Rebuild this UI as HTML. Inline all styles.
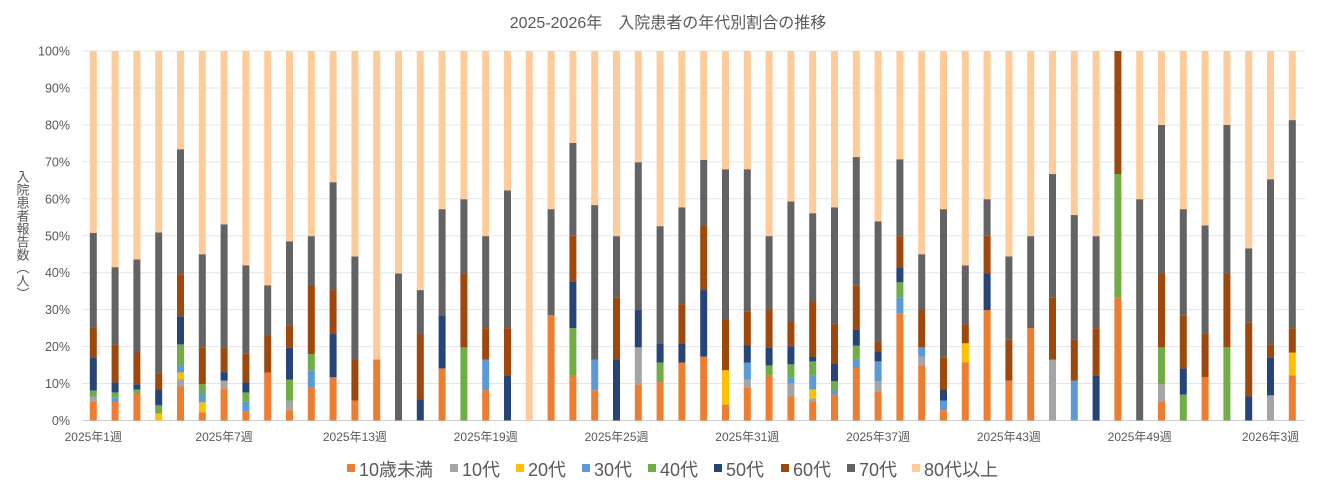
<!DOCTYPE html>
<html><head><meta charset="utf-8"><style>
html,body{margin:0;padding:0;background:#fff;}
svg text{font-family:"Liberation Sans","Noto Sans CJK JP",sans-serif;}
</style></head><body>
<svg id="c" width="1336" height="489" xmlns="http://www.w3.org/2000/svg">
<rect width="1336" height="489" fill="#fff"/>
<text x="668" y="28" text-anchor="middle" font-size="16" fill="#595959">2025-2026年　入院患者の年代別割合の推移</text>
<text x="22" y="235" font-size="13" fill="#595959" style="writing-mode:vertical-rl" text-anchor="middle">入院患者報告数（人）</text>
<g id="g"></g>
</svg>
<script>
var C=["#ED7D31","#A5A5A5","#FFC000","#5B9BD5","#70AD47","#264478","#9E480E","#636363","#FFCC99"];
var O=0,G=1,Y=2,B=3,N=4,V=5,R=6,D=7;
var data=[
[[O,5],[G,6.5],[N,8.1],[V,16.9],[R,25.2],[D,50.8]],
[[O,5],[B,6.3],[N,7.6],[V,10.3],[R,20.6],[D,41.5]],
[[O,7.3],[N,8.4],[V,9.8],[R,18.4],[D,43.6]],
[[Y,1.9],[N,4.1],[V,8.4],[R,12.6],[D,50.9]],
[[O,9.2],[G,11.1],[Y,13],[B,14.9],[N,20.6],[V,28.2],[R,39.6],[D,73.4]],
[[O,2.2],[Y,4.9],[B,7.3],[N,9.8],[R,19.8],[D,45]],
[[O,8.7],[G,10.8],[V,13.1],[R,19.8],[D,53.1]],
[[O,2.4],[B,5.1],[N,7.6],[V,10.3],[R,18.2],[D,42]],
[[O,13],[R,23],[D,36.6]],
[[O,2.8],[G,5.4],[N,11.1],[V,19.8],[R,25.6],[D,48.5]],
[[O,8.9],[B,13.6],[N,18],[R,36.4],[D,49.9]],
[[O,11.7],[V,23.4],[R,35.3],[D,64.5]],
[[O,5.4],[R,16.5],[D,44.4]],
[[O,16.5]],
[[D,39.8]],
[[V,5.7],[R,23.4],[D,35.3]],
[[O,14.1],[V,28.5],[D,57.2]],
[[N,19.8],[R,39.8],[D,59.9]],
[[O,8.2],[B,16.5],[R,25],[D,49.9]],
[[V,12.2],[R,25],[D,62.3]],
[],
[[O,28.5],[D,57.2]],
[[O,12.2],[N,25],[V,37.5],[R,50],[D,75.1]],
[[O,8.2],[B,16.5],[D,58.3]],
[[V,16.5],[R,33.2],[D,49.9]],
[[O,9.8],[G,19.8],[V,29.9],[D,69.9]],
[[O,10.4],[N,15.7],[V,20.9],[D,52.6]],
[[O,15.7],[V,20.9],[R,31.5],[D,57.7]],
[[O,17.3],[V,35.3],[R,52.8],[D,70.5]],
[[O,4.3],[Y,13.6],[R,27.2],[D,68]],
[[O,8.9],[G,11.1],[B,15.7],[V,20.3],[R,29.4],[D,68]],
[[O,12.2],[N,14.9],[V,19.8],[R,29.9],[D,49.9]],
[[O,6.5],[G,10],[B,11.7],[N,15.2],[V,20.1],[R,26.8],[D,59.3]],
[[O,5],[G,6],[Y,8.4],[B,12.2],[N,16],[V,17.3],[R,32.2],[D,56.1]],
[[O,7],[B,8.1],[N,10.6],[V,15.4],[R,26.3],[D,57.7]],
[[O,14.2],[B,16.4],[N,20.3],[V,24.5],[R,36.6],[D,71.3]],
[[O,7.9],[G,10.6],[B,16],[V,18.7],[R,21.4],[D,53.9]],
[[O,29],[B,33.2],[N,37.4],[V,41.5],[R,49.9],[D,70.7]],
[[O,14.9],[G,17.3],[B,19.8],[R,29.9],[D,45]],
[[O,2.8],[B,5.4],[V,8.4],[R,17.1],[D,57.2]],
[[O,15.7],[Y,20.9],[R,26],[D,42]],
[[O,29.9],[V,39.8],[R,50],[D,59.9]],
[[O,10.8],[R,22],[D,44.4]],
[[O,25],[D,49.9]],
[[G,16.5],[R,33.2],[D,66.7]],
[[B,10.8],[R,22],[D,55.6]],
[[V,12.2],[R,25],[D,49.9]],
[[O,33.2],[N,66.7],[R,100]],
[[D,59.9]],
[[O,5],[G,9.8],[N,19.8],[R,39.8],[D,80]],
[[N,7],[V,14.1],[R,28.5],[D,57.2]],
[[O,11.7],[R,23.4],[D,52.8]],
[[N,19.8],[R,39.8],[D,80]],
[[V,6.5],[R,26.6],[D,46.6]],
[[G,6.8],[V,17.1],[R,20.6],[D,65.3]],
[[O,12.2],[Y,18.4],[R,25],[D,81.3]]
];
var s='';var y0=420.5,h=369.5;
function Y_(p){return y0-p*h/100;}
for(var k=0;k<=10;k++){var yy=Y_(k*10);
 s+='<line x1="82" x2="1305" y1="'+yy+'" y2="'+yy+'" stroke="'+(k==0?'#d0d0d0':'#e6e6e6')+'" stroke-width="1"/>';
 s+='<text x="70" y="'+(yy+4.5)+'" text-anchor="end" font-size="12.5" fill="#595959">'+(k*10)+'%</text>';}
for(var i=0;i<data.length;i++){var x=93.3+i*21.8-3.5,prev=0;
 var segs=data[i].concat([[8,100]]);
 for(var j=0;j<segs.length;j++){var t=segs[j][1];if(t<=prev)continue;
  s+='<rect x="'+x+'" y="'+Y_(t)+'" width="7" height="'+(Y_(prev)-Y_(t))+'" fill="'+C[segs[j][0]]+'"/>';prev=t;}}
var labs=["2025年1週","2025年7週","2025年13週","2025年19週","2025年25週","2025年31週","2025年37週","2025年43週","2025年49週","2026年3週"];
for(var i=0;i<labs.length;i++){var x=93.3+i*6*21.8;
 s+='<text x="'+x+'" y="441" text-anchor="middle" font-size="12" fill="#595959">'+labs[i]+'</text>';}
var L=["10歳未満","10代","20代","30代","40代","50代","60代","70代","80代以上"];
var lx=[347,450,516,582,648,714,781,847,912];
for(var i=0;i<9;i++){s+='<rect x="'+lx[i]+'" y="464" width="8" height="8" fill="'+C[i]+'"/>';
 s+='<text x="'+(lx[i]+12)+'" y="476" font-size="18" fill="#595959">'+L[i]+'</text>';}
document.getElementById('g').innerHTML=s;
</script>
</body></html>
